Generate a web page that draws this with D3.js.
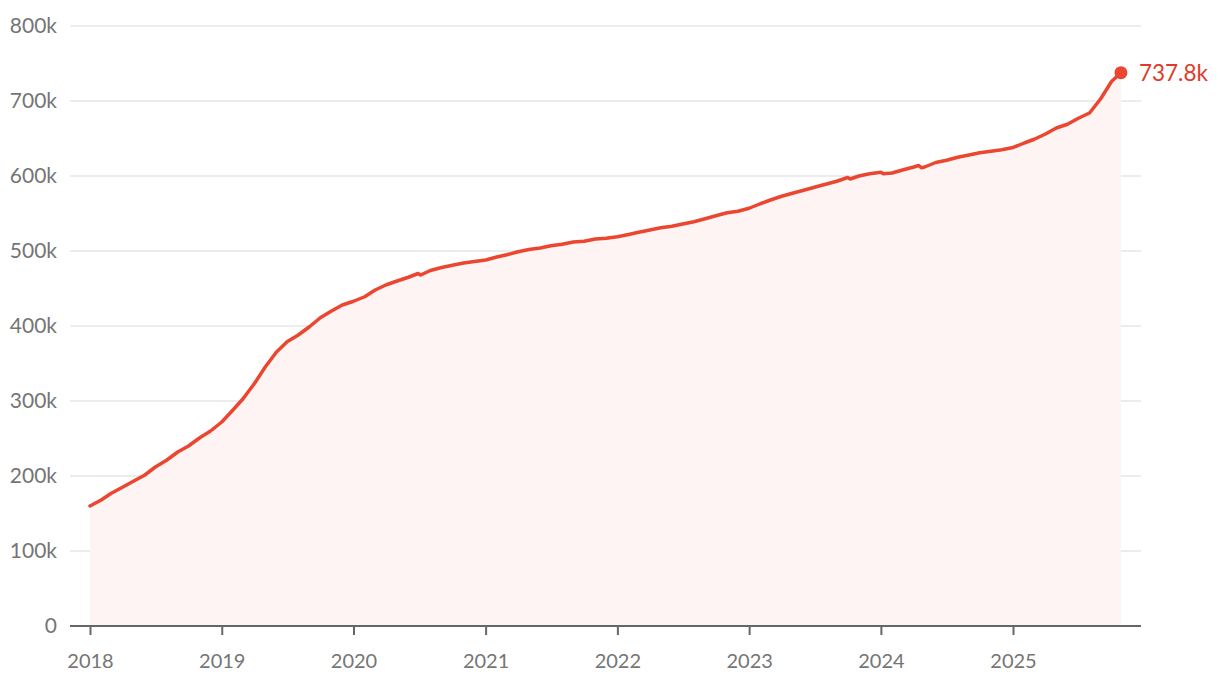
<!DOCTYPE html>
<html><head><meta charset="utf-8">
<script src="https://cdn.jsdelivr.net/npm/d3@7"></script>
<style>
body{margin:0;background:#fff;}
svg text{font-family:Lato,"Noto Sans",sans-serif;}
</style></head>
<body><svg id="chart" width="1220" height="688"></svg>
<script>
const dates = [
"2018-01-01","2018-02-01","2018-03-01","2018-04-01","2018-05-01","2018-06-01","2018-07-01","2018-08-01","2018-09-01","2018-10-01","2018-11-01","2018-12-01",
"2019-01-01","2019-02-01","2019-03-01","2019-04-01","2019-05-01","2019-06-01","2019-07-01","2019-08-01","2019-09-01","2019-10-01","2019-11-01","2019-12-01",
"2020-01-01","2020-02-01","2020-03-01","2020-04-01","2020-05-01","2020-06-01","2020-06-28","2020-07-05","2020-08-01","2020-09-01","2020-10-01","2020-11-01","2020-12-01",
"2021-01-01","2021-02-01","2021-03-01","2021-04-01","2021-05-01","2021-06-01","2021-07-01","2021-08-01","2021-09-01","2021-10-01","2021-11-01","2021-12-01",
"2022-01-01","2022-02-01","2022-03-01","2022-04-01","2022-05-01","2022-06-01","2022-07-01","2022-08-01","2022-09-01","2022-10-01","2022-11-01","2022-12-01",
"2023-01-01","2023-02-01","2023-03-01","2023-04-01","2023-05-01","2023-06-01","2023-07-01","2023-08-01","2023-09-01","2023-10-01","2023-10-08","2023-11-01","2023-12-01",
"2024-01-01","2024-01-08","2024-02-01","2024-03-01","2024-04-01","2024-04-15","2024-04-22","2024-05-01","2024-06-01","2024-07-01","2024-08-01","2024-09-01","2024-10-01","2024-11-01","2024-12-01",
"2025-01-01","2025-02-01","2025-03-01","2025-04-01","2025-05-01","2025-06-01","2025-07-01","2025-08-01","2025-09-01","2025-10-01","2025-10-27"
];
const values = [
160,168,177,185,193,201,212,221,232,240,251,260,
272,288,303,323,345,365,379,388,399,411,420,428,
433,439,448,455,460,465,470,468,474,478,481,484,486,
488,492,495,499,502,504,507,509,512,513,516,517,
519,522,525,528,531,533,536,539,543,547,551,553,
557,563,568,573,577,581,585,589,593,598,596,600,603,
605,603,604,608,612,614,611,612,618,621,625,628,631,633,635,
638,644,649,656,664,669,677,684,703,726,737.8
];
const yTicks = [0,100,200,300,400,500,600,700,800];
const yTickLabels = ["0","100k","200k","300k","400k","500k","600k","700k","800k"];
const xTicks = ["2018","2019","2020","2021","2022","2023","2024","2025"];
const lastLabel = "737.8k";

const parse = d3.timeParse("%Y-%m-%d");
const data = dates.map((d,i)=>({date:parse(d), value:values[i]}));

const svg = d3.select("#chart");
const x = d3.scaleTime().domain([new Date(2018,0,1), new Date(2025,0,1)]).range([90,1013]);
const y = d3.scaleLinear().domain([0,800]).range([626,26]);
const left = 70, right = 1141;

// gridlines
svg.append("g").selectAll("line").data(yTicks.filter(d=>d>0)).join("line")
  .attr("x1",left).attr("x2",right)
  .attr("y1",d=>y(d)).attr("y2",d=>y(d))
  .attr("stroke","#e6e6e6").attr("stroke-width",1.5);

// y labels
svg.append("g").selectAll("text").data(yTicks).join("text")
  .attr("x",57).attr("y",d=>y(d)).attr("dy","0.35em")
  .attr("text-anchor","end").attr("font-size",21).attr("fill","#757575")
  .text((d,i)=>yTickLabels[i]);

// area
const area = d3.area().x(d=>x(d.date)).y0(y(0)).y1(d=>y(d.value));
svg.append("path").datum(data).attr("d",area).attr("fill","#fef4f3");

// line
const line = d3.line().x(d=>x(d.date)).y(d=>y(d.value));
svg.append("path").datum(data).attr("d",line).attr("fill","none")
  .attr("stroke","#ea4630").attr("stroke-width",3.5).attr("stroke-linejoin","round").attr("stroke-linecap","round");

// x axis
const xAxis = d3.axisBottom(x)
  .tickValues(xTicks.map(t=>new Date(+t,0,1)))
  .tickFormat(d3.timeFormat("%Y")).tickSize(9).tickSizeOuter(0).tickPadding(19);
const gx = svg.append("g").attr("transform",`translate(0,${y(0)})`).call(xAxis);
gx.select(".domain").remove();
gx.append("line").attr("x1",left).attr("x2",right).attr("y1",0).attr("y2",0)
  .attr("stroke","#666").attr("stroke-width",2);
gx.selectAll(".tick line").attr("stroke","#666").attr("stroke-width",2);
gx.selectAll(".tick text").attr("font-size",20).attr("fill","#757575").attr("font-family","Lato");

// end dot + label
const last = data[data.length-1];
svg.append("circle").attr("cx",x(last.date)).attr("cy",y(last.value)).attr("r",6.5).attr("fill","#ea4630");
svg.append("text").attr("x",x(last.date)+18).attr("y",y(last.value)).attr("dy","0.35em")
  .attr("font-size",22.5).attr("fill","#e03a28").text(lastLabel);
</script></body></html>
